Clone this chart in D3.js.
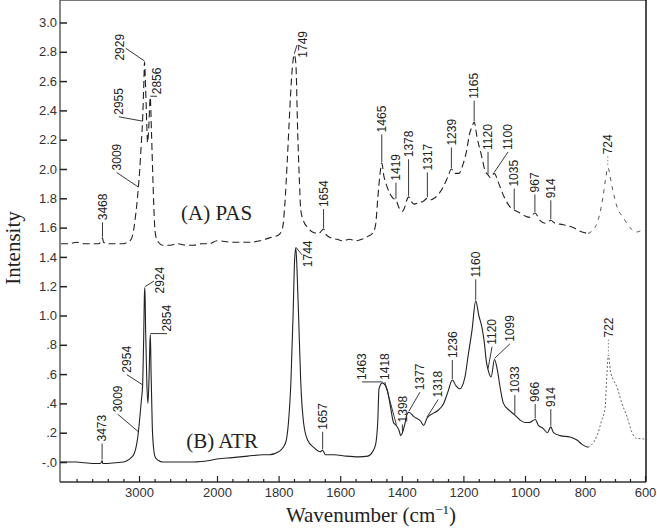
<!DOCTYPE html>
<html>
<head>
<meta charset="utf-8">
<script src="https://cdn.jsdelivr.net/npm/d3@7"></script>
<style>
  body { margin: 0; background: #fff; }
  svg { display: block; }
  .sans { font-family: "Liberation Sans", Arial, sans-serif; }
  .serif { font-family: "Liberation Serif", "Times New Roman", serif; }
</style>
</head>
<body>
<svg width="657" height="529"></svg>
<script>
// (A) PAS trace: wavenumber (cm-1) and intensity
var pasWn = [4000, 3900, 3800, 3700, 3600, 3520, 3480, 3468, 3455, 3400,
    3300, 3200, 3150, 3100, 3070, 3040, 3020, 3009, 2990, 2970,
    2955, 2940, 2929, 2915, 2900, 2890, 2875, 2856, 2840, 2820,
    2800, 2780, 2750, 2700, 2600, 2500, 2400, 2300, 2200, 2100,
    2000, 1950, 1900, 1860, 1830, 1800, 1787, 1780, 1772, 1765,
    1757, 1749, 1744, 1738, 1733, 1728, 1718, 1705, 1690, 1670,
    1654, 1645, 1630, 1610, 1590, 1570, 1550, 1530, 1510, 1495,
    1485, 1478, 1470, 1465, 1458, 1448, 1438, 1428, 1419, 1410,
    1400, 1392, 1385, 1378, 1370, 1360, 1345, 1330, 1317, 1305,
    1295, 1280, 1265, 1250, 1239, 1228, 1215, 1200, 1190, 1180,
    1172, 1165, 1156, 1140, 1130, 1120, 1112, 1100, 1085, 1068,
    1048, 1035, 1016, 1000, 983, 967, 950, 933, 914, 900,
    873, 840, 810, 790, 767, 750, 740, 730, 724, 710,
    693, 673, 650, 627, 610, 600];
var pasInt = [1.49, 1.49, 1.50, 1.49, 1.49, 1.49, 1.51, 1.53, 1.50, 1.49,
    1.49, 1.49, 1.50, 1.52, 1.58, 1.70, 1.80, 1.87, 2.00, 2.18,
    2.32, 2.55, 2.73, 2.55, 2.30, 2.18, 2.28, 2.49, 2.25, 1.90,
    1.62, 1.53, 1.50, 1.48, 1.48, 1.49, 1.48, 1.48, 1.49, 1.49,
    1.51, 1.50, 1.50, 1.51, 1.53, 1.55, 1.60, 1.75, 2.05, 2.35,
    2.65, 2.78, 2.72, 2.25, 1.95, 1.72, 1.64, 1.60, 1.57, 1.56,
    1.59, 1.55, 1.53, 1.52, 1.51, 1.52, 1.51, 1.52, 1.54, 1.56,
    1.62, 1.80, 1.98, 2.04, 1.95, 1.88, 1.83, 1.80, 1.79, 1.74,
    1.71, 1.73, 1.78, 1.81, 1.78, 1.76, 1.77, 1.78, 1.80, 1.79,
    1.80, 1.83, 1.88, 1.95, 2.00, 1.97, 1.97, 2.04, 2.12, 2.24,
    2.29, 2.32, 2.22, 2.08, 1.99, 1.96, 1.94, 1.97, 1.90, 1.81,
    1.74, 1.72, 1.70, 1.68, 1.67, 1.70, 1.65, 1.63, 1.65, 1.63,
    1.62, 1.60, 1.57, 1.56, 1.60, 1.70, 1.81, 1.95, 2.01, 1.88,
    1.74, 1.67, 1.60, 1.57, 1.58, 1.57];

// (B) ATR trace
var atrWn = [4000, 3900, 3800, 3700, 3600, 3500, 3480, 3473, 3465, 3400,
    3300, 3200, 3150, 3100, 3060, 3030, 3009, 2990, 2970, 2954,
    2940, 2930, 2924, 2915, 2900, 2885, 2870, 2860, 2854, 2845,
    2830, 2810, 2790, 2750, 2700, 2500, 2300, 2100, 2000, 1950,
    1900, 1850, 1830, 1800, 1785, 1775, 1768, 1760, 1753, 1748,
    1744, 1740, 1735, 1728, 1719, 1706, 1686, 1665, 1657, 1648,
    1620, 1580, 1540, 1510, 1495, 1485, 1478, 1474, 1463, 1447,
    1437, 1427, 1418, 1408, 1404, 1398, 1390, 1384, 1377, 1361,
    1339, 1329, 1318, 1300, 1284, 1264, 1250, 1236, 1224, 1212,
    1195, 1185, 1172, 1160, 1150, 1140, 1133, 1125, 1120, 1110,
    1099, 1090, 1080, 1070, 1050, 1033, 1018, 1000, 985, 966,
    955, 940, 925, 914, 905, 883, 850, 827, 810, 790,
    773, 760, 745, 733, 727, 722, 715, 705, 693, 677,
    660, 643, 627, 610, 600];
var atrInt = [0.00, 0.00, 0.00, -0.005, -0.01, -0.01, 0.00, 0.01, -0.01, -0.01,
    -0.005, 0.00, 0.01, 0.03, 0.06, 0.12, 0.20, 0.30, 0.42, 0.52,
    0.85, 1.15, 1.19, 0.90, 0.55, 0.40, 0.60, 0.82, 0.87, 0.60,
    0.25, 0.08, 0.03, 0.01, 0.00, 0.00, 0.00, 0.01, 0.02, 0.03,
    0.04, 0.05, 0.05, 0.07, 0.10, 0.15, 0.27, 0.55, 1.00, 1.38,
    1.46, 1.30, 0.99, 0.54, 0.27, 0.15, 0.10, 0.07, 0.08, 0.05,
    0.05, 0.04, 0.035, 0.04, 0.07, 0.12, 0.28, 0.50, 0.54, 0.49,
    0.38, 0.27, 0.25, 0.21, 0.18, 0.20, 0.26, 0.32, 0.34, 0.31,
    0.28, 0.25, 0.30, 0.33, 0.35, 0.40, 0.48, 0.56, 0.52, 0.50,
    0.58, 0.72, 0.90, 1.10, 1.00, 0.92, 0.83, 0.68, 0.63, 0.58,
    0.70, 0.63, 0.50, 0.40, 0.35, 0.32, 0.29, 0.27, 0.27, 0.29,
    0.25, 0.23, 0.20, 0.24, 0.20, 0.18, 0.17, 0.15, 0.12, 0.10,
    0.13, 0.18, 0.28, 0.37, 0.60, 0.73, 0.62, 0.56, 0.51, 0.40,
    0.31, 0.20, 0.16, 0.16, 0.15];

// labelled peaks
var pasPeaks = [3468, 3009, 2955, 2929, 2856, 1749, 1654, 1465, 1419, 1378,
    1317, 1239, 1165, 1120, 1100, 1035, 967, 914, 724];
var atrPeaks = [3473, 3009, 2954, 2924, 2854, 1744, 1657, 1463, 1418, 1398,
    1377, 1318, 1236, 1160, 1120, 1099, 1033, 966, 914, 722];

// where each label text sits: [wavenumber of text column, intensity at text foot, leader leaves from side]
var pasLabelAt = [[3468, 1.65], [3286, 1.99], [3260, 2.37], [3247, 2.74, "side"], [2769, 2.51],
    [1721, 2.76, "side"], [1654, 1.74], [1465, 2.25], [1419, 1.92], [1378, 2.08],
    [1317, 1.99], [1239, 2.16], [1165, 2.48], [1120, 2.13], [1055, 2.13],
    [1035, 1.88], [967, 1.84], [914, 1.80], [724, 2.10]];
var atrLabelAt = [[3473, 0.14], [3273, 0.34], [3156, 0.61], [2731, 1.15, "side"], [2641, 0.89],
    [1705, 1.33, "side"], [1657, 0.22], [1529, 0.56], [1455, 0.56], [1398, 0.27],
    [1341, 0.49], [1282, 0.44], [1236, 0.71], [1160, 1.26], [1107, 0.80],
    [1049, 0.82], [1033, 0.47], [966, 0.41], [914, 0.375], [722, 0.85]];

// axes
var xTicks = [3000, 2000, 1800, 1600, 1400, 1200, 1000, 800, 600];
var xTickLabels = ["3000", "2000", "1800", "1600", "1400", "1200", "1000", "800", "600"];
var xMinorTicks = [3800, 3600, 3400, 3200, 2800, 2600, 2400, 2200,
    1950, 1900, 1850, 1750, 1700, 1650, 1550, 1500, 1450, 1350, 1300, 1250,
    1150, 1100, 1050, 950, 900, 850, 750, 700, 650];
var yTicks = [0, 0.2, 0.4, 0.6, 0.8, 1.0, 1.2, 1.4, 1.6, 1.8, 2.0, 2.2, 2.4, 2.6, 2.8, 3.0];
var yTickLabels = ["-.0", ".2", ".4", ".6", ".8", "1.0", "1.2", "1.4", "1.6", "1.8",
    "2.0", "2.2", "2.4", "2.6", "2.8", "3.0"];

var svg = d3.select("svg"),
    left = 60, right = 646, top = 13, bottom = 482;

// broken wavenumber axis: 4000-2000 squeezed, 2000-600 stretched
var x = d3.scaleLinear()
    .domain([4000, 3000, 2000, 1000, 600])
    .range([61, 139, 217, 525, 645]);
var y = d3.scaleLinear().domain([0, 3]).range([462, 22.5]);

// frame
svg.append("line").attr("x1", left).attr("x2", right + 1).attr("y1", top).attr("y2", top)
    .attr("stroke", "#777").attr("stroke-width", 2);
svg.append("line").attr("x1", right).attr("x2", right).attr("y1", top).attr("y2", bottom)
    .attr("stroke", "#222").attr("stroke-width", 1.6);
svg.append("line").attr("x1", left).attr("x2", left).attr("y1", top).attr("y2", bottom)
    .attr("stroke", "#555").attr("stroke-width", 1.4);
svg.append("line").attr("x1", left).attr("x2", right).attr("y1", bottom).attr("y2", bottom)
    .attr("stroke", "#333").attr("stroke-width", 1.4);

// x axis
var gx = svg.append("g").attr("class", "sans")
    .attr("transform", "translate(0," + bottom + ")")
    .call(d3.axisBottom(x).tickValues(xTicks).tickSize(-6).tickPadding(6)
        .tickFormat(function(d, i) { return xTickLabels[i]; }));
svg.append("g")
    .attr("transform", "translate(0," + bottom + ")")
    .call(d3.axisBottom(x).tickValues(xMinorTicks).tickSize(-3).tickFormat(""))
    .select(".domain").remove();
gx.select(".domain").remove();
gx.selectAll("text").attr("font-size", 13).attr("fill", "#333")
    .attr("font-family", "'Liberation Sans', Arial, sans-serif");
svg.selectAll(".tick line").attr("stroke", "#222").attr("stroke-width", 1.2);

// y axis
var gy = svg.append("g").attr("class", "sans")
    .attr("transform", "translate(" + left + ",0)")
    .call(d3.axisLeft(y).tickValues(yTicks).tickSize(-7).tickPadding(3)
        .tickFormat(function(d, i) { return yTickLabels[i]; }));
gy.select(".domain").remove();
gy.selectAll(".tick line").attr("stroke", "#222").attr("stroke-width", 1.5);
gy.selectAll("text").attr("font-size", 13).attr("fill", "#333")
    .attr("font-family", "'Liberation Sans', Arial, sans-serif");

// axis titles
svg.append("text").attr("class", "serif")
    .attr("transform", "translate(20,248) rotate(-90)")
    .attr("text-anchor", "middle").attr("font-size", 21).attr("fill", "#222")
    .text("Intensity");
var xt = svg.append("text").attr("class", "serif")
    .attr("x", 371).attr("y", 522)
    .attr("text-anchor", "middle").attr("font-size", 21).attr("fill", "#222");
xt.append("tspan").text("Wavenumber (cm");
xt.append("tspan").attr("font-size", 13).attr("dy", -8).text("\u22121");
xt.append("tspan").attr("dy", 8).text(")");

// traces
function pairs(wn, v) {
    return wn.map(function(d, i) { return [d, v[i]]; });
}
var line = d3.line()
    .x(function(d) { return x(d[0]); })
    .y(function(d) { return y(d[1]); })
    .curve(d3.curveMonotoneX);

var pas = pairs(pasWn, pasInt),
    atr = pairs(atrWn, atrInt);

svg.append("path").datum(pas.filter(function(d) { return d[0] >= 790; }))
    .attr("d", line).attr("fill", "none")
    .attr("stroke", "#222").attr("stroke-width", 1.1).attr("stroke-dasharray", "7,4");
svg.append("path").datum(pas.filter(function(d) { return d[0] <= 790; }))
    .attr("d", line).attr("fill", "none")
    .attr("stroke", "#555").attr("stroke-width", 1).attr("stroke-dasharray", "4,5");

svg.append("path").datum(atr.filter(function(d) { return d[0] >= 790; }))
    .attr("d", line).attr("fill", "none")
    .attr("stroke", "#222").attr("stroke-width", 1.1);
svg.append("path").datum(atr.filter(function(d) { return d[0] <= 790; }))
    .attr("d", line).attr("fill", "none")
    .attr("stroke", "#666").attr("stroke-width", 1).attr("stroke-dasharray", "2,2");

// trace captions
svg.append("text").attr("class", "serif")
    .attr("x", x(2460)).attr("y", y(1.65))
    .attr("font-size", 21).attr("fill", "#222").text("(A) PAS");
svg.append("text").attr("class", "serif")
    .attr("x", x(2395)).attr("y", y(0.095))
    .attr("font-size", 21).attr("fill", "#222").text("(B) ATR");

// peak labels with leader lines
function drawLabels(peaks, at, wn, v) {
    var g = svg.append("g").attr("class", "sans");
    peaks.forEach(function(p, i) {
        var px = x(p), py = y(v[wn.indexOf(p)]),
            tx = x(at[i][0]), ty = y(at[i][1]),
            label = String(p),
            len = label.length * 6.7,
            sx = tx, sy = ty + 2;
        if (at[i][2] === "side") {
            sx = tx + (px > tx ? 6 : -6);
            sy = ty - len / 2 + 1;
        }
        g.append("line")
            .attr("x1", sx).attr("y1", sy).attr("x2", px).attr("y2", py - 1)
            .attr("stroke", p < 790 ? "#777" : "#222")
            .attr("stroke-width", 0.9)
            .attr("stroke-dasharray", p < 790 ? "1.5,2" : null);
        g.append("text")
            .attr("transform", "translate(" + tx + "," + ty + ") rotate(-90)")
            .attr("dy", "0.35em")
            .attr("font-size", 12).attr("fill", "#222")
            .text(label);
    });
}
drawLabels(pasPeaks, pasLabelAt, pasWn, pasInt);
drawLabels(atrPeaks, atrLabelAt, atrWn, atrInt);
</script>
</body>
</html>
